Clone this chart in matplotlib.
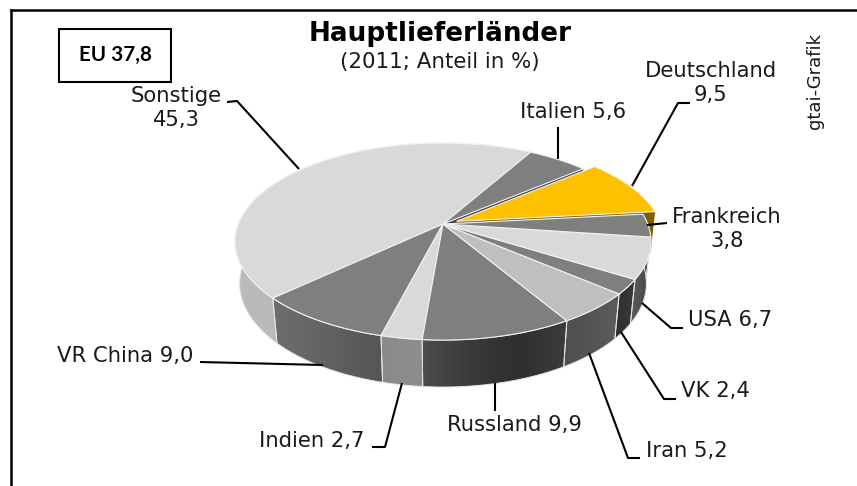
import matplotlib
matplotlib.use("Agg")
import matplotlib.pyplot as plt
import numpy as np
from matplotlib.colors import LinearSegmentedColormap
from matplotlib.patches import Polygon, Rectangle

# going counter clockwise, first slice starts at 60 degrees
laender = ["Sonstige", "VR China", "Indien", "Russland", "Iran", "VK", "USA",
           "Frankreich", "Deutschland", "Italien"]
anteile = [45.3, 9.0, 2.7, 9.9, 5.2, 2.4, 6.7, 3.8, 9.5, 5.6]
top_farben = ["#d9d9d9", "#7f7f7f", "#d9d9d9", "#7f7f7f", "#bfbfbf", "#7f7f7f",
              "#d9d9d9", "#7f7f7f", "#ffc000", "#7f7f7f"]
rand_farben = [["#bababa", "#bababa"], ["#6e6e6e", "#555555"], ["#8a8a8a", "#8e8e8e"],
               ["#4c4c4c", "#3a3a3a", "#2f2f2f", "#3c3c3c"], ["#4e4e4e", "#5c5c5c"],
               ["#2e2e2e", "#3a3a3a"], ["#5c5c5c", "#444444"], ["#555555", "#555555"],
               ["#7f6000", "#7f6000"], ["#444444", "#444444"]]

START = 60.0
CX, CY = 443.0, 224.0
A, B, K, M, D = 204.7, 95.4, 0.178, 0.022, 42.2


def proj(u, v, z):
    # perspective view of the unit disc
    w = 1 + K * v + M * z
    return CX + A * u / w, CY + (-B * v + D * z) / w


def arc(a0, a1, z, dx=0.0, dy=0.0):
    t = np.radians(np.linspace(a0, a1, 80))
    return np.column_stack(proj(np.cos(t) + dx, np.sin(t) + dy, z))


def top(ax, a0, a1, color, dx=0.0, dy=0.0):
    pts = np.vstack([[proj(dx, dy, 0)], arc(a0, a1, 0, dx, dy)])
    ax.add_patch(Polygon(pts, closed=True, fc=color, ec="#f2f2f2", lw=0.8, zorder=3))


def wall(ax, a0, a1, colors, dx=0.0, dy=0.0):
    pts = np.vstack([arc(a0, a1, 0, dx, dy), arc(a0, a1, 1, dx, dy)[::-1]])
    poly = Polygon(pts, closed=True, fc="none", ec="#e6e6e6", lw=0.7, zorder=2)
    ax.add_patch(poly)
    cmap = LinearSegmentedColormap.from_list("w", colors)
    img = ax.imshow(np.linspace(0, 1, 256).reshape(1, -1), cmap=cmap, aspect="auto",
                    extent=(pts[:, 0].min(), pts[:, 0].max(), pts[:, 1].max(), pts[:, 1].min()),
                    zorder=1.5, interpolation="bilinear")
    img.set_clip_path(poly)


def face(ax, angle, color, dx=0.0, dy=0.0, zorder=2.5):
    t = np.radians(angle)
    rim = (np.cos(t) + dx, np.sin(t) + dy)
    pts = [proj(dx, dy, 0), proj(*rim, 0), proj(*rim, 1), proj(dx, dy, 1)]
    ax.add_patch(Polygon(pts, closed=True, fc=color, ec="none", zorder=zorder))


fig = plt.figure(figsize=(8.57, 4.86), dpi=100)
ax = fig.add_axes([0, 0, 1, 1])
ax.axis("off")

grenzen = START + np.cumsum([0] + anteile) * 3.6

# back part first, exploded slice on it, then the front slices over that
for i in range(len(anteile)):
    if laender[i] != "Deutschland" and laender[i] != "Italien":
        wall(ax, grenzen[i], grenzen[i + 1], rand_farben[i])

i_d = laender.index("Deutschland")
i_i = laender.index("Italien")
i_s = laender.index("Sonstige")
mitte = np.radians((grenzen[i_d] + grenzen[i_d + 1]) / 2)
ex, ey = 0.072 * np.cos(mitte), 0.072 * np.sin(mitte)

face(ax, grenzen[i_i], rand_farben[i_i][0])
top(ax, grenzen[i_s], grenzen[i_s + 1], top_farben[i_s])
top(ax, grenzen[i_i], grenzen[i_i + 1], top_farben[i_i])
face(ax, grenzen[i_d], rand_farben[i_d][0], ex, ey, zorder=3)
top(ax, grenzen[i_d], grenzen[i_d + 1], top_farben[i_d], ex, ey)
for i in range(len(anteile)):
    if i not in (i_s, i_i, i_d):
        top(ax, grenzen[i], grenzen[i + 1], top_farben[i])

# leader lines
leader = [
    [(227, 102), (237, 101), (299, 169)],
    [(558, 127), (558, 159)],
    [(690, 103), (678, 103), (632, 186)],
    [(667, 223), (647, 225)],
    [(642, 303), (671, 328), (683, 328)],
    [(621, 332), (664, 399), (676, 399)],
    [(589, 353), (628, 458), (640, 458)],
    [(495, 383), (495, 411)],
    [(402, 383), (385, 447), (372, 447)],
    [(200, 362), (323, 365)],
]
for pts in leader:
    xs, ys = zip(*pts)
    ax.plot(xs, ys, color="black", lw=1.5, solid_capstyle="butt", zorder=5)

FS = 15.2
txt = "#1a1a1a"
ax.text(176, 108, "Sonstige\n45,3", fontsize=FS, color=txt, ha="center", va="center", linespacing=1.3, zorder=6)
ax.text(573, 112, "Italien 5,6", fontsize=FS, color=txt, ha="center", va="center", zorder=6)
ax.text(711, 83, "Deutschland\n9,5", fontsize=FS, color=txt, ha="center", va="center", linespacing=1.3, zorder=6)
ax.text(727, 229, "Frankreich\n3,8", fontsize=FS, color=txt, ha="center", va="center", linespacing=1.3, zorder=6)
ax.text(730, 320, "USA 6,7", fontsize=FS, color=txt, ha="center", va="center", zorder=6)
ax.text(715, 391, "VK 2,4", fontsize=FS, color=txt, ha="center", va="center", zorder=6)
ax.text(687, 451, "Iran 5,2", fontsize=FS, color=txt, ha="center", va="center", zorder=6)
ax.text(514, 425, "Russland 9,9", fontsize=FS, color=txt, ha="center", va="center", zorder=6)
ax.text(312, 441, "Indien 2,7", fontsize=FS, color=txt, ha="center", va="center", zorder=6)
ax.text(125, 356, "VR China 9,0", fontsize=FS, color=txt, ha="center", va="center", zorder=6)

ax.text(440, 34, "Hauptlieferländer", fontsize=18.9, fontweight="bold", color="black", ha="center", va="center")
ax.text(440, 62, "(2011; Anteil in %)", fontsize=15.4, color=txt, ha="center", va="center")
ax.text(815, 81, "gtai-Grafik", fontsize=13, color=txt, rotation=90, ha="center", va="center")

ax.add_patch(Rectangle((59, 29), 112, 53, fc="white", ec="black", lw=1.5))
ax.text(115, 55, "EU 37,8", fontsize=14.9, fontweight="bold", family="Lato", color="black", ha="center", va="center")

# frame is only visible at top and left
ax.plot([11, 11], [486, 10], color="black", lw=1.8, zorder=6)
ax.plot([11, 857], [10, 10], color="black", lw=1.8, zorder=6)

ax.set_xlim(0, 857)
ax.set_ylim(486, 0)
fig.savefig("out.png", dpi=100)
